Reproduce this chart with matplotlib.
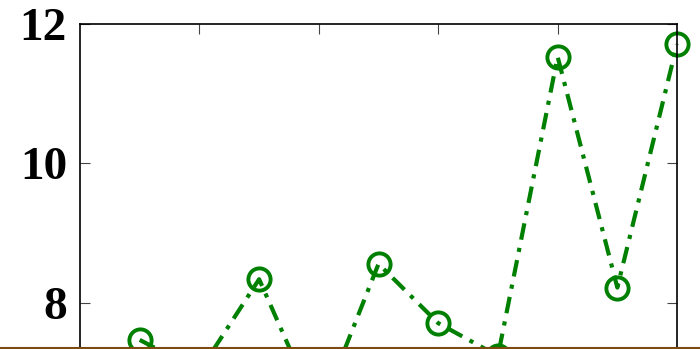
import numpy as np
import matplotlib.pyplot as plt
from matplotlib.lines import Line2D

x = np.arange(1, 11)
y = [7.47, 7.02, 8.34, 6.4, 8.56, 7.71, 7.24, 11.53, 8.22, 11.71]
yticks = [8, 10, 12]
xticks = [2, 4, 6, 8]

fig = plt.figure(figsize=(7, 3.49), dpi=100)
ax = fig.add_axes([0.1143, -0.2676, 0.8529, 1.1988])

ax.plot(x, y, color="green", lw=3, dashes=(4, 2, 1, 2),
        marker="o", markersize=16, markerfacecolor="none",
        markeredgecolor="green", markeredgewidth=2.8, clip_on=False)

ax.set_xlim(0, 10)
ax.set_ylim(6, 12)
ax.set_xticks(xticks)
ax.set_yticks(yticks)
ax.set_xticklabels([])
ax.tick_params(direction="in", top=True, right=True, length=7, width=0.8,
               color="#444444", pad=9.4)
for lab in ax.get_yticklabels():
    lab.set_fontfamily("Liberation Serif")
    lab.set_fontweight("bold")
    lab.set_fontsize(34)
for s in ax.spines.values():
    s.set_linewidth(1.2)

# brown rule along the bottom edge
fig.add_artist(Line2D([0, 1], [0.004, 0.004], transform=fig.transFigure,
                      color="#7f4a0f", lw=1.5))

fig.savefig("out.png", dpi=100)
